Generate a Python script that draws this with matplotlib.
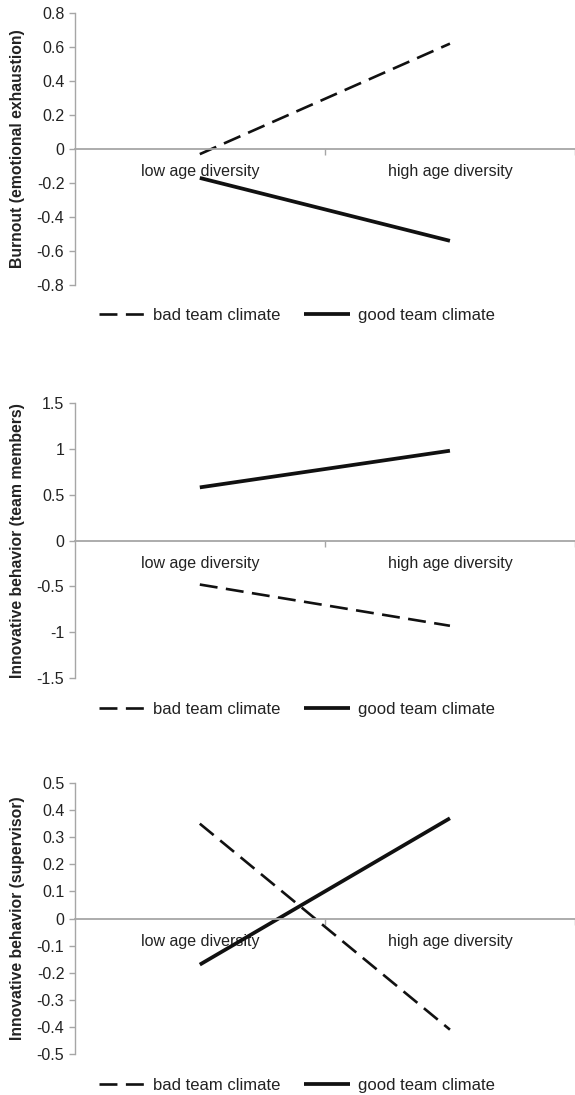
import numpy as np
import matplotlib
matplotlib.use("Agg")
import matplotlib.pyplot as plt

plt.rcParams['font.family'] = ['Liberation Sans', 'DejaVu Sans']

categories = ["low age diversity", "high age diversity"]
series_names = ["bad team climate", "good team climate"]

burnout_bad = [-0.03, 0.62]
burnout_good = [-0.17, -0.54]

team_bad = [-0.48, -0.93]
team_good = [0.58, 0.98]

sup_bad = [0.35, -0.41]
sup_good = [-0.17, 0.37]

panels = [
    ("Burnout (emotional exhaustion)", burnout_bad, burnout_good,
     (-0.8, 0.8), np.arange(-0.8, 0.81, 0.2), "{:.1f}"),
    ("Innovative behavior (team members)", team_bad, team_good,
     (-1.5, 1.5), np.arange(-1.5, 1.51, 0.5), "{:g}"),
    ("Innovative behavior (supervisor)", sup_bad, sup_good,
     (-0.5, 0.5), np.arange(-0.5, 0.51, 0.1), "{:.1f}"),
]

# axes boxes in figure fraction: left, bottom, width, height
boxes = [(0.13, 0.7397, 0.87, 0.2484),
         (0.13, 0.3808, 0.87, 0.2511),
         (0.13, 0.0374, 0.87, 0.2475)]
legend_y = [0.7123, 0.3525, 0.0091]

gray = "#a6a6a6"
txt = "#222222"
fig = plt.figure(figsize=(5.75, 10.95), dpi=100)

for (ylabel, bad, good, ylim, yt, fmt), box, ly in zip(panels, boxes, legend_y):
    ax = fig.add_axes(box)
    x = np.array([0.5, 1.5])
    ax.plot(x, bad, color="#111111", lw=1.9, ls=(0, (6.8, 3.2)),
            label=series_names[0], dash_capstyle="butt")
    ax.plot(x, good, color="#111111", lw=2.7, ls="-",
            label=series_names[1], solid_capstyle="butt")

    ax.set_xlim(0, 2)
    ax.set_ylim(*ylim)
    ax.set_yticks(yt)
    labels = []
    for v in yt:
        v = round(v, 2)
        labels.append("0" if abs(v) < 1e-9 else fmt.format(v))
    ax.set_yticklabels(labels)

    for s in ["top", "right"]:
        ax.spines[s].set_visible(False)
    ax.spines["left"].set_color(gray)
    ax.spines["bottom"].set_color(gray)
    ax.spines["left"].set_linewidth(1.0)
    ax.spines["bottom"].set_linewidth(1.3)
    ax.spines["bottom"].set_position(("data", 0))

    ax.set_xticks([1, 2])
    ax.set_xticklabels(["", ""])
    ax.set_xticks(x, minor=True)
    ax.set_xticklabels(categories, minor=True)
    ax.tick_params(axis="x", which="major", direction="out", length=4,
                   color=gray, width=1)
    ax.tick_params(axis="x", which="minor", length=0, pad=11,
                   labelsize=11.5, labelcolor=txt)
    ax.tick_params(axis="y", direction="out", length=4, color=gray,
                   width=1, pad=3.5, labelsize=11.5, labelcolor=txt)

    ax.set_ylabel(ylabel, fontsize=11.3, fontweight="bold", color=txt)
    ax.yaxis.set_label_coords(-0.100, 0.5)

    fig.legend(handles=ax.get_lines(), loc="center",
               bbox_to_anchor=(0.516, ly), ncol=2, frameon=False,
               fontsize=12, handlelength=2.8, handletextpad=0.45,
               columnspacing=1.4, labelcolor=txt)

fig.savefig("out.png", dpi=100)
